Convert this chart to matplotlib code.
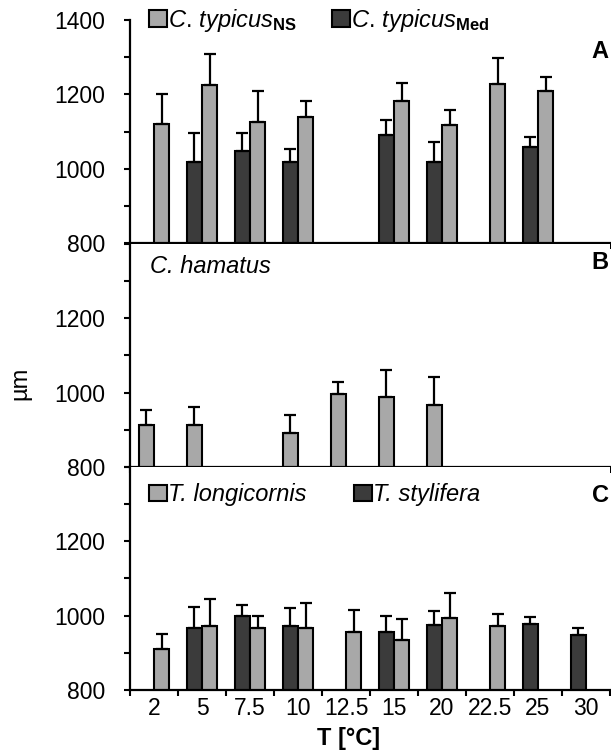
import numpy as np
import matplotlib.pyplot as plt
from matplotlib.patches import Patch

plt.rcParams['font.family'] = 'Liberation Sans'
plt.rcParams['mathtext.fontset'] = 'custom'
plt.rcParams['mathtext.it'] = 'Liberation Sans:italic'
plt.rcParams['mathtext.rm'] = 'Liberation Sans'
plt.rcParams['mathtext.bf'] = 'Liberation Sans:bold'

nan = np.nan

# temperature classes
temps = ['2', '5', '7.5', '10', '12.5', '15', '20', '22.5', '25', '30']

# A: C. typicus, North Sea and Mediterranean
ns_mean = [1120, 1225, 1126, 1140, nan, 1182, 1117, 1229, 1209, nan]
ns_err = [81, 83, 84, 42, nan, 48, 42, 68, 38, nan]
med_mean = [nan, 1018, 1048, 1018, nan, 1090, 1017, nan, 1059, nan]
med_err = [nan, 79, 47, 35, nan, 42, 55, nan, 27, nan]

# B: C. hamatus
ham_mean = [913, 913, nan, 891, 995, 988, 966, nan, nan, nan]
ham_err = [41, 48, nan, 48, 34, 74, 77, nan, nan, nan]

# C: T. longicornis and T. stylifera
long_mean = [909, 973, 966, 966, 956, 935, 993, 971, nan, nan]
long_err = [41, 71, 32, 69, 59, 56, 68, 34, nan, nan]
styl_mean = [nan, 966, 1000, 973, nan, 956, 976, nan, 977, 949]
styl_err = [nan, 56, 29, 48, nan, 42, 37, nan, 19, 18]

light = '#a8a8a8'
dark = '#3b3b3b'
w = 0.32
x = np.arange(len(temps)) + 0.5

fig = plt.figure(figsize=(6.11, 7.55), dpi=100)
left, width, height = 0.2128, 0.7856, 0.2954
axA = fig.add_axes([left, 0.6781, width, height])
axB = fig.add_axes([left, 0.3815, width, height])
axC = fig.add_axes([left, 0.0861, width, height])


def bars(ax, pos, mean, err, color):
    mean = np.array(mean, dtype=float)
    err = np.array(err, dtype=float)
    ax.bar(pos, mean, w, color=color, edgecolor='black', linewidth=1.5, zorder=2)
    ax.errorbar(pos, mean, yerr=[np.zeros_like(err), err], fmt='none',
                ecolor='black', elinewidth=1.6, capsize=4.5, capthick=1.6, zorder=3)


def style(ax, ylabels, xlabels=False):
    ax.set_xlim(0, 10)
    ax.set_ylim(800, 1400)
    for s in ['top', 'right']:
        ax.spines[s].set_visible(False)
    for s in ['left', 'bottom']:
        ax.spines[s].set_linewidth(1.6)
    ax.set_xticks(np.arange(11))
    ax.set_xticklabels([])
    ax.set_xticks(x, labels=temps if xlabels else [''] * len(temps), minor=True)
    ax.tick_params(axis='x', which='major', direction='out', length=4, width=1.5)
    ax.tick_params(axis='x', which='minor', length=0, pad=5, labelsize=16.5)
    ax.set_yticks(np.arange(800, 1401, 100))
    ax.set_yticklabels(ylabels)
    ax.tick_params(axis='y', direction='out', length=4, width=1.5, pad=14, labelsize=16.5)


yl_full = ['800', '', '1000', '', '1200', '', '1400']
yl_part = ['800', '', '1000', '', '1200', '', '']

# panel A
bars(axA, x - w / 2, med_mean, med_err, dark)
bars(axA, x + w / 2, ns_mean, ns_err, light)
style(axA, yl_full)
axA.legend(handles=[Patch(facecolor=light, edgecolor='black', linewidth=1.5),
                    Patch(facecolor=dark, edgecolor='black', linewidth=1.5)],
           labels=[r'$\mathit{C.}\,\mathit{typicus}_{\mathbf{NS}}$',
                   r'$\mathit{C.}\,\mathit{typicus}_{\mathbf{Med}}$'],
           ncol=2, frameon=False, loc='center left', bbox_to_anchor=(0.04, 1.0),
           borderaxespad=0, borderpad=0, handlelength=0.75, handleheight=0.7,
           handletextpad=0.05, columnspacing=1.5, fontsize=17)
axA.text(0.962, 0.861, 'A', transform=axA.transAxes, fontsize=17,
         fontweight='bold', va='center', ha='left')

# panel B
bars(axB, x - w / 2, ham_mean, ham_err, light)
style(axB, yl_part)
axB.text(0.042, 0.90, 'C. hamatus', transform=axB.transAxes, fontsize=17,
         style='italic', va='center', ha='left')
axB.text(0.962, 0.915, 'B', transform=axB.transAxes, fontsize=17,
         fontweight='bold', va='center', ha='left')
axB.set_ylabel('µm', fontsize=17)
axB.yaxis.set_label_coords(-0.205, 0.377)

# panel C
bars(axC, x - w / 2, styl_mean, styl_err, dark)
bars(axC, x + w / 2, long_mean, long_err, light)
style(axC, yl_part, xlabels=True)
axC.legend(handles=[Patch(facecolor=light, edgecolor='black', linewidth=1.5),
                    Patch(facecolor=dark, edgecolor='black', linewidth=1.5)],
           labels=['T. longicornis', 'T. stylifera'],
           prop={'style': 'italic', 'size': 17},
           ncol=2, frameon=False, loc='center left', bbox_to_anchor=(0.04, 0.875),
           borderaxespad=0, borderpad=0, handlelength=0.75, handleheight=0.7,
           handletextpad=0.05, columnspacing=2.0)
axC.text(0.962, 0.87, 'C', transform=axC.transAxes, fontsize=17,
         fontweight='bold', va='center', ha='left')
axC.set_xlabel('T [°C]', fontsize=17, fontweight='bold')
axC.xaxis.set_label_coords(0.456, -0.165)

fig.savefig('out.png', dpi=100)
